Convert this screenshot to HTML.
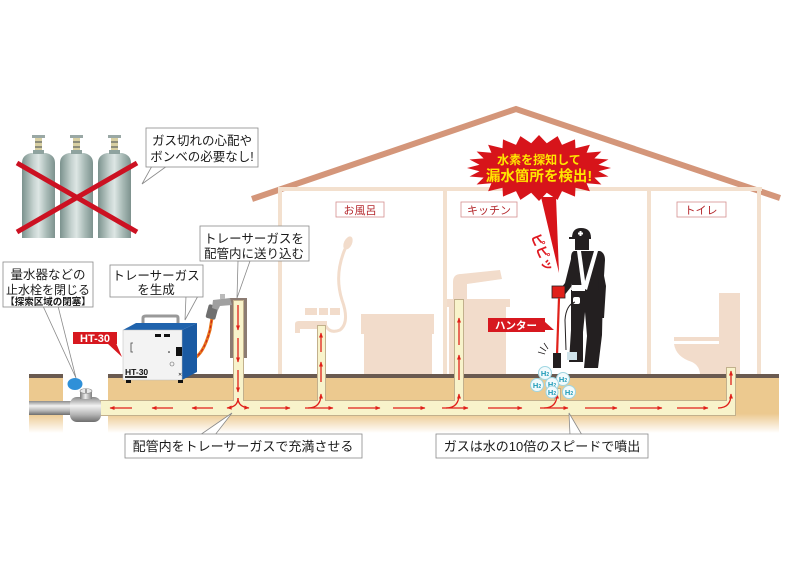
<!DOCTYPE html>
<html><head><meta charset="utf-8">
<style>
html,body{margin:0;padding:0;background:#fff;}
svg{display:block;}
text{font-family:"Liberation Sans","Noto Sans CJK JP",sans-serif;}
</style></head><body>
<svg width="800" height="566" viewBox="0 0 800 566" xmlns="http://www.w3.org/2000/svg">
<defs>
 <linearGradient id="gnd" x1="0" y1="0" x2="0" y2="1">
  <stop offset="0" stop-color="#ecc98f"/>
  <stop offset="0.66" stop-color="#ecc98f"/>
  <stop offset="1" stop-color="#ffffff"/>
 </linearGradient>
 <linearGradient id="cyl" x1="0" y1="0" x2="1" y2="0">
  <stop offset="0" stop-color="#7b928d"/>
  <stop offset="0.35" stop-color="#c6d3d0"/>
  <stop offset="0.5" stop-color="#dde6e4"/>
  <stop offset="0.75" stop-color="#a8bab6"/>
  <stop offset="1" stop-color="#7d928e"/>
 </linearGradient>
 <linearGradient id="gp" x1="0" y1="0" x2="0" y2="1">
  <stop offset="0" stop-color="#8a8a8a"/>
  <stop offset="0.35" stop-color="#f2f2f2"/>
  <stop offset="0.7" stop-color="#b5b5b5"/>
  <stop offset="1" stop-color="#6e6e6e"/>
 </linearGradient>
 <linearGradient id="gv" x1="0" y1="0" x2="1" y2="0">
  <stop offset="0" stop-color="#7a7a7a"/>
  <stop offset="0.45" stop-color="#eeeeee"/>
  <stop offset="1" stop-color="#808080"/>
 </linearGradient>
 <marker id="ah" viewBox="0 0 10 10" refX="9" refY="5" markerWidth="4" markerHeight="4" orient="auto">
  <path d="M0,1 L10,5 L0,9 Z" fill="#e0201a"/>
 </marker>
</defs>

<!-- roof -->
<polyline points="252,199 516,109 780,198" fill="none" stroke="#d4967a" stroke-width="6"/>
<!-- inner walls -->
<g fill="#f3e0ce">
 <rect x="278" y="187" width="484" height="4"/>
 <rect x="278" y="187" width="4" height="190"/>
 <rect x="443" y="187" width="4" height="190"/>
 <rect x="647" y="187" width="4" height="190"/>
 <rect x="757" y="187" width="4" height="190"/>
</g>

<!-- room labels -->
<g font-size="11" fill="#b5282d" text-anchor="middle">
 <rect x="336" y="202" width="48" height="15" fill="#fff" stroke="#d49090" stroke-width="0.8"/>
 <text x="360" y="214">お風呂</text>
 <rect x="461" y="202" width="56" height="15" fill="#fff" stroke="#d49090" stroke-width="0.8"/>
 <text x="489" y="214">キッチン</text>
 <rect x="677" y="202" width="49" height="15" fill="#fff" stroke="#d49090" stroke-width="0.8"/>
 <text x="701" y="214">トイレ</text>
</g>

<!-- bathroom fixtures -->
<g fill="#f2dccb">
 <ellipse cx="348" cy="243" rx="4" ry="7" transform="rotate(25 348 243)"/>
 <rect x="305" y="308" width="12" height="7"/>
 <rect x="319" y="308" width="9" height="7"/>
 <rect x="330" y="308" width="10" height="7"/>
 <path d="M295,333 L295,324 Q295,321 299,321 L327,321 L327,329 L300,329 L300,333 Z"/>
 <rect x="361" y="314" width="73" height="20"/>
 <rect x="364" y="334" width="68" height="41"/>
</g>
<path d="M345,249 Q334,275 342,300 Q350,322 340,330 Q330,334 326,326" fill="none" stroke="#f2dccb" stroke-width="3"/>

<!-- kitchen -->
<g fill="#f2dccb">
 <rect x="447" y="299" width="63" height="8"/>
 <rect x="449" y="307" width="57" height="68"/>
 <path d="M453,300 L453,282 Q453,274 461,274 L500,270 L502,279 L467,284 L467,300 Z"/>
</g>

<!-- toilet -->
<g fill="#f2dccb">
 <rect x="719" y="293" width="21" height="82"/>
 <rect x="674" y="337" width="45" height="4"/>
 <path d="M674,344 L719,344 L719,375 L700,375 Q700,366 692,362 Q676,357 674,344 Z"/>
</g>

<!-- ground -->
<rect x="108" y="376" width="671" height="57" fill="url(#gnd)"/>
<rect x="29" y="376" width="34" height="57" fill="url(#gnd)"/>
<rect x="108" y="374" width="671" height="4" fill="#6a5a50"/>
<rect x="29" y="374" width="34" height="4" fill="#6a5a50"/>

<!-- brown box behind main riser -->
<rect x="230" y="298" width="17" height="60" fill="#8b7b72"/>

<!-- pipes -->
<g fill="#c2b08c">
 <rect x="100" y="400" width="636" height="16"/>
 <rect x="233" y="300" width="11" height="101"/>
 <rect x="317" y="325" width="9" height="76"/>
 <rect x="454" y="299" width="10" height="102"/>
 <rect x="554" y="388" width="7" height="13"/>
 <rect x="726" y="367" width="10" height="34"/>
</g>
<g fill="#f8f3cb">
 <rect x="101" y="401" width="634" height="14"/>
 <rect x="234" y="301" width="9" height="105"/>
 <rect x="318" y="326" width="7" height="80"/>
 <rect x="455" y="300" width="8" height="106"/>
 <rect x="555" y="389" width="5" height="16"/>
 <rect x="727" y="368" width="8" height="40"/>
</g>

<!-- arrows -->
<g stroke="#e0201a" stroke-width="1.3" fill="none" marker-end="url(#ah)">
 <line x1="132" y1="408" x2="110" y2="408"/>
 <line x1="173" y1="408" x2="152" y2="408"/>
 <line x1="213" y1="408" x2="192" y2="408"/>
 <line x1="260" y1="408" x2="290" y2="408"/>
 <line x1="305" y1="408" x2="333" y2="408"/>
 <line x1="348" y1="408" x2="380" y2="408"/>
 <line x1="393" y1="408" x2="425" y2="408"/>
 <line x1="442" y1="408" x2="468" y2="408"/>
 <line x1="488" y1="408" x2="522" y2="408"/>
 <line x1="540" y1="408" x2="568" y2="408"/>
 <line x1="585" y1="408" x2="617" y2="408"/>
 <line x1="630" y1="408" x2="662" y2="408"/>
 <line x1="677" y1="408" x2="708" y2="408"/>
 <path d="M718,408 Q731,408 731,394"/>
 <line x1="731" y1="385" x2="731" y2="371"/>
 <path d="M308,408 Q321,408 321,394"/>
 <line x1="321" y1="382" x2="321" y2="362"/>
 <line x1="321" y1="352" x2="321" y2="333"/>
 <path d="M446,408 Q459,408 459,394"/>
 <line x1="459" y1="380" x2="459" y2="355"/>
 <line x1="459" y1="345" x2="459" y2="318"/>
 <path d="M544,408 Q557,408 557,394"/>
 <line x1="238" y1="305" x2="238" y2="330"/>
 <line x1="238" y1="338" x2="238" y2="362"/>
 <line x1="238" y1="370" x2="238" y2="392"/>
 <path d="M238,398 Q238,407 227,408"/>
 <path d="M238,398 Q238,407 249,408"/>
</g>

<!-- water pipe & valve -->
<rect x="29" y="401" width="45" height="14" fill="url(#gp)"/>
<rect x="70" y="397" width="31" height="25" rx="7" fill="url(#gp)"/>
<rect x="80" y="391" width="12" height="8" fill="url(#gv)"/>
<ellipse cx="86" cy="391" rx="6" ry="2.5" fill="#e8e8e8" stroke="#888" stroke-width="0.6"/>
<line x1="86" y1="389" x2="86" y2="393" stroke="#555" stroke-width="1"/>
<ellipse cx="75" cy="384" rx="7.5" ry="6" fill="#2f90d8"/>

<!-- gas cylinders -->
<g id="cy">
 <path d="M22,238 L22,163 Q22,155 31,153 L46,153 Q55,155 55,163 L55,238 Z" fill="url(#cyl)"/>
 <rect x="33" y="150" width="11" height="4" fill="#8fa39f"/>
 <rect x="35" y="138" width="7" height="12" fill="#d8cfa2"/>
 <rect x="35" y="141" width="7" height="2" fill="#8d8d7a"/>
 <rect x="35" y="146" width="7" height="2" fill="#8d8d7a"/>
 <rect x="32" y="135" width="13" height="3" fill="#9aa8a5"/>
</g>
<use href="#cy" x="38"/>
<use href="#cy" x="76"/>
<g stroke="#cc1122" stroke-width="5">
 <line x1="17" y1="163" x2="137" y2="232"/>
 <line x1="17" y1="232" x2="137" y2="163"/>
</g>

<!-- HT-30 machine -->
<path d="M185,362 C200,360 206,345 210,330 L212,318" fill="none" stroke="#e8731a" stroke-width="3"/>
<path d="M185,362 C200,360 206,345 210,330 L212,318" fill="none" stroke="#c81e1e" stroke-width="1" stroke-dasharray="3 2"/>
<rect x="207" y="305" width="10" height="14" rx="2" fill="#6f6f6f" transform="rotate(15 212 312)"/>
<path d="M213,300 L230,298 L232,305 L220,306 L218,310 L212,308 Z" fill="#a0a0a0"/>
<rect x="220" y="294" width="5" height="5" fill="#bbb"/>
<path d="M143,323 L143,318 Q143,316 146,316 L176,316 Q178,316 178,318 L178,323" fill="none" stroke="#999" stroke-width="3"/>
<polygon points="123,330 136,323 197,323 182,330" fill="#1f63ad"/>
<polygon points="182,330 197,323 197,372 182,380" fill="#1a5aa3"/>
<rect x="123" y="330" width="59" height="50" fill="#f3f3f3" stroke="#bbb" stroke-width="0.5"/>
<rect x="155" y="334" width="6" height="3" fill="#111"/>
<rect x="164" y="334" width="6" height="3" fill="#111"/>
<rect x="176" y="347" width="6" height="9" fill="#111"/>
<circle cx="169" cy="352" r="0.8" fill="#111"/>
<path d="M133,343 L131,343 L131,352 L133,352" fill="none" stroke="#444" stroke-width="0.8"/>
<circle cx="172" cy="364" r="2" fill="none" stroke="#666" stroke-width="0.6"/>
<text x="178" y="376" font-size="5" fill="#111">✕</text>
<text x="125" y="375" font-size="8.5" font-weight="bold" fill="#111">HT-30</text>
<rect x="125" y="376" width="22" height="2" fill="#333"/>
<rect x="126" y="380" width="5" height="3" fill="#111"/>
<rect x="178" y="380" width="5" height="3" fill="#111"/>

<!-- burst -->
<polygon points="541,197 556,197 559,273" fill="#d7141a"/>
<polygon fill="#d7141a" points="611,168 598.5,171.3 608.5,176.5 594.4,177.6 601.4,184.5 586.6,183.2 589.9,191.3 575.5,187.8 575,196.6 562,191.1 557.6,199.9 546.8,192.8 539,201 531.2,192.8 520.4,199.9 516,191.1 503,196.6 502.5,187.8 488.1,191.3 491.4,183.2 476.6,184.5 483.6,177.6 469.5,176.5 479.5,171.3 467,168 479.5,164.7 469.5,159.5 483.6,158.4 476.6,151.5 491.4,152.8 488.1,144.7 502.5,148.2 503,139.4 516,144.9 520.4,136.1 531.2,143.2 539,135 546.8,143.2 557.6,136.1 562,144.9 575,139.4 575.5,148.2 589.9,144.7 586.6,152.8 601.4,151.5 594.4,158.4 608.5,159.5 598.5,164.7"/>
<text x="539" y="164" font-size="12" font-weight="bold" fill="#ffe600" text-anchor="middle">水素を探知して</text>
<text x="539" y="181" font-size="14.5" font-weight="bold" fill="#ffe600" text-anchor="middle">漏水箇所を検出!</text>

<!-- pipipi -->
<text transform="translate(531,236) rotate(68)" font-size="13" font-weight="bold" fill="#e01a22">ピピッ</text>

<!-- worker -->
<g fill="#231f20">
 <path d="M572,238 Q572,228 581,228 Q591,228 591,238 Z"/>
 <rect x="569" y="237" width="22" height="2"/>
 <rect x="575" y="238" width="14" height="12"/>
 <path d="M574,251 L600,251 Q605,253 605,260 L603,292 L572,292 L571,258 Q571,252 574,251 Z"/>
 <path d="M572,255 L565,283 L558,292 L563,297 L571,287 L578,262 Z"/>
 <path d="M600,255 L606,286 L604,318 L598,318 L599,286 L596,262 Z"/>
 <path d="M571,290 L603,290 L602,335 L598,368 L584,368 L587,336 L585,312 L583,332 L583,362 L569,362 L571,330 Z"/>
</g>
<g fill="#fff">
 <path d="M577,251 L581,251 L586,288 L582,289 Z"/>
 <path d="M594,251 L598,251 L587,290 L583,288 Z"/>
 <rect x="572" y="285" width="13" height="6"/>
 <rect x="573" y="297" width="7" height="7" rx="2"/>
 <rect x="579.5" y="231" width="2" height="5"/>
 <rect x="578" y="232.5" width="5" height="2"/>
</g>
<path d="M575,302 Q566,305 565,320 L566,350" fill="none" stroke="#231f20" stroke-width="1"/>
<rect x="567" y="352" width="10" height="8" fill="#cfe3ea"/>
<rect x="552" y="286" width="13" height="12" fill="#e0201a" stroke="#231f20" stroke-width="0.8"/>
<line x1="559" y1="298" x2="557" y2="355" stroke="#e0201a" stroke-width="2.2"/>
<rect x="553" y="353" width="8" height="15" fill="#231f20"/>
<g stroke="#231f20" stroke-width="0.8">
 <line x1="540" y1="347" x2="546" y2="351"/>
 <line x1="544" y1="343" x2="548" y2="349"/>
 <line x1="538" y1="352" x2="545" y2="354"/>
</g>

<!-- H2 bubbles -->
<g font-size="7.5" font-weight="bold" fill="#1f9bb8" text-anchor="middle">
 <circle cx="545" cy="373" r="6.5" fill="#f2fafc" stroke="#9fd6e2"/>
 <text x="545" y="376">H<tspan font-size="5">2</tspan></text>
 <circle cx="563" cy="379" r="6.5" fill="#f2fafc" stroke="#9fd6e2"/>
 <text x="563" y="382">H<tspan font-size="5">2</tspan></text>
 <circle cx="537" cy="385" r="6.5" fill="#f2fafc" stroke="#9fd6e2"/>
 <text x="537" y="388">H<tspan font-size="5">2</tspan></text>
 <circle cx="552" cy="384" r="6.5" fill="#f2fafc" stroke="#9fd6e2"/>
 <text x="552" y="387">H<tspan font-size="5">2</tspan></text>
 <circle cx="552" cy="392" r="6" fill="#f2fafc" stroke="#9fd6e2"/>
 <text x="552" y="395">H<tspan font-size="5">2</tspan></text>
 <circle cx="569" cy="392" r="6.5" fill="#f2fafc" stroke="#9fd6e2"/>
 <text x="569" y="395">H<tspan font-size="5">2</tspan></text>
</g>

<!-- red tags -->
<polygon points="107,343 116,343 122,357" fill="#d7181f"/>
<rect x="73" y="332" width="44" height="12" fill="#d7181f"/>
<text x="95" y="342" font-size="11" font-weight="bold" fill="#fff" text-anchor="middle">HT-30</text>
<polygon points="544,321 544,330 554,330" fill="#d7181f"/>
<rect x="488" y="318" width="57" height="14" fill="#d7181f"/>
<text x="516" y="329" font-size="10.5" font-weight="bold" fill="#fff" text-anchor="middle">ハンター</text>

<!-- callout boxes -->
<g fill="#fff" stroke="#8a8a8a" stroke-width="0.8">
 <polygon points="152,166 167,166 142,184"/>
 <polygon points="43,306 58,306 76,378"/>
 <polygon points="186,296 198,296 185,320"/>
 <polygon points="238,261 250,261 237,298"/>
 <polygon points="200,435 215,435 232,413"/>
 <polygon points="570,435 582,435 569,413"/>
 <rect x="146" y="128" width="112" height="39"/>
 <rect x="3" y="262" width="90" height="45"/>
 <rect x="110" y="265" width="93" height="32"/>
 <rect x="200" y="226" width="109" height="35"/>
 <rect x="125" y="434" width="237" height="24"/>
 <rect x="436" y="434" width="212" height="24"/>
</g>
<g fill="#1a1a1a" text-anchor="middle">
 <text x="202" y="145" font-size="12.5">ガス切れの心配や</text>
 <text x="202" y="161" font-size="12.5">ボンベの必要なし!</text>
 <text x="48" y="279" font-size="12.5">量水器などの</text>
 <text x="48" y="294" font-size="12">止水栓を閉じる</text>
 <text x="48" y="305" font-size="9.5" font-weight="bold">【探索区域の閉塞】</text>
 <text x="156" y="280" font-size="12.5">トレーサーガス</text>
 <text x="156" y="294" font-size="12.5">を生成</text>
 <text x="254" y="243" font-size="12.5">トレーサーガスを</text>
 <text x="254" y="258" font-size="12.5">配管内に送り込む</text>
 <text x="243" y="451" font-size="13">配管内をトレーサーガスで充満させる</text>
 <text x="542" y="451" font-size="13">ガスは水の10倍のスピードで噴出</text>
</g>
</svg>
</body></html>
